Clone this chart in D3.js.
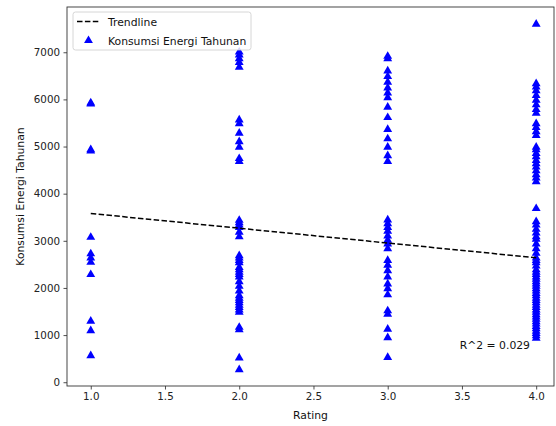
<!DOCTYPE html>
<html>
<head>
<meta charset="utf-8">
<script src="https://cdn.jsdelivr.net/npm/d3@7/dist/d3.min.js"></script>
<style>
  html, body { margin: 0; padding: 0; background: #fff; }
  svg { display: block; font-family: "DejaVu Sans", sans-serif; }
</style>
</head>
<body>
<svg id="chart" width="556" height="426"></svg>
<script>
// Annual energy consumption grouped by rating
const ratings = [1, 2, 3, 4];
const energyRating1 = [5940, 5920, 4950, 4920, 3090, 2740, 2650, 2560, 2300, 1310, 1110, 580];
const energyRating2 = [7020, 6960, 6880, 6800, 6700, 5580, 5500, 5300, 5120, 5000, 4760, 4700,
  3450, 3400, 3350, 3300, 3200, 3100, 2700, 2650, 2600, 2550, 2450, 2400, 2350, 2300, 2250,
  2150, 2050, 1950, 1850, 1800, 1750, 1700, 1650, 1600, 1550, 1500, 1180, 1130, 530, 280];
const energyRating3 = [6930, 6880, 6620, 6500, 6380, 6260, 6150, 6050, 5850, 5630, 5380, 5180,
  5000, 4820, 4700, 3460, 3380, 3300, 3220, 3120, 3030, 2950, 2850, 2600, 2500, 2380, 2250,
  2100, 2000, 1870, 1530, 1460, 1140, 960, 540];
const energyRating4 = [7610, 6350, 6280, 6200, 6100, 6000, 5900, 5800, 5720, 5500, 5420, 5330,
  5250, 5000, 4950, 4870, 4800, 4720, 4650, 4580, 4500, 4420, 4350, 4270, 3700, 3420, 3350,
  3260, 3180, 3100, 3050, 2950, 2850, 2750, 2650, 2600, 2550, 2480, 2400, 2350, 2300, 2250,
  2200, 2150, 2100, 2050, 2000, 1950, 1900, 1850, 1800, 1750, 1700, 1650, 1600, 1550, 1500,
  1450, 1400, 1350, 1300, 1250, 1200, 1150, 1100, 1050, 1000, 950];
const energyByRating = [energyRating1, energyRating2, energyRating3, energyRating4];

// Fitted trendline end values (at rating 1 and rating 4) and its R^2
const trendRatings = [1, 4];
const trendValues = [3580, 2640];
const rSquaredLabel = "R^2 = 0.029";

const xTicks = [1.0, 1.5, 2.0, 2.5, 3.0, 3.5, 4.0];
const yTicks = [0, 1000, 2000, 3000, 4000, 5000, 6000, 7000];

const points = [];
ratings.forEach((r, i) => energyByRating[i].forEach(v => points.push({ rating: r, energy: v })));

const svg = d3.select("#chart");
const plotLeft = 67, plotRight = 554, plotTop = 7, plotBottom = 386;
const labelSize = "10.8px";

const x = d3.scaleLinear().domain([0.84, 4.12]).range([plotLeft, plotRight]);
const y = d3.scaleLinear().domain([-80, 7960]).range([plotBottom, plotTop]);

// axes
const xAxis = d3.axisBottom(x).tickValues(xTicks).tickFormat(d3.format(".1f")).tickSize(3.5).tickPadding(3.5);
const yAxis = d3.axisLeft(y).tickValues(yTicks).tickFormat(d3.format("d")).tickSize(3.5).tickPadding(3.5);

const gx = svg.append("g").attr("transform", `translate(0,${plotBottom})`).call(xAxis);
const gy = svg.append("g").attr("transform", `translate(${plotLeft},0)`).call(yAxis);
[gx, gy].forEach(g => {
  g.select(".domain").remove();
  g.selectAll(".tick line").attr("stroke", "#222").attr("stroke-width", 0.8);
  g.selectAll(".tick text").attr("fill", "#222").style("font-size", "10.3px")
    .style("font-family", "DejaVu Sans, sans-serif");
});

// scatter of triangles
const tri = d3.symbol().type(d3.symbolTriangle).size(34);
svg.append("g").selectAll("path").data(points).join("path")
  .attr("d", tri)
  .attr("transform", d => `translate(${x(d.rating)},${y(d.energy) + 0.7})`)
  .attr("fill", "#0000ff");

// trendline
const line = d3.line().x(d => x(d[0])).y(d => y(d[1]));
svg.append("path")
  .datum(trendRatings.map((r, i) => [r, trendValues[i]]))
  .attr("d", line)
  .attr("fill", "none")
  .attr("stroke", "#000")
  .attr("stroke-width", 1.5)
  .attr("stroke-dasharray", "5.5,2.4");

// frame
svg.append("rect")
  .attr("x", plotLeft).attr("y", plotTop)
  .attr("width", plotRight - plotLeft).attr("height", plotBottom - plotTop)
  .attr("fill", "none").attr("stroke", "#333").attr("stroke-width", 0.9);

// R^2 annotation
svg.append("text")
  .attr("x", 530).attr("y", 349)
  .attr("text-anchor", "end")
  .style("font-size", labelSize).attr("fill", "#111")
  .text(rSquaredLabel);

// axis labels
svg.append("text")
  .attr("x", (plotLeft + plotRight) / 2).attr("y", 419)
  .attr("text-anchor", "middle").style("font-size", labelSize).attr("fill", "#111")
  .text("Rating");
svg.append("text")
  .attr("transform", `translate(24,${(plotTop + plotBottom) / 2}) rotate(-90)`)
  .attr("text-anchor", "middle").style("font-size", labelSize).attr("fill", "#111")
  .text("Konsumsi Energi Tahunan");

// legend
const lg = svg.append("g").attr("transform", "translate(73,12)");
lg.append("rect")
  .attr("x", 0).attr("y", 0).attr("width", 178).attr("height", 38).attr("rx", 2.5)
  .attr("fill", "rgba(255,255,255,0.8)").attr("stroke", "#ccc").attr("stroke-width", 0.8);
lg.append("line")
  .attr("x1", 4).attr("x2", 27).attr("y1", 9.5).attr("y2", 9.5)
  .attr("stroke", "#000").attr("stroke-width", 1.5).attr("stroke-dasharray", "5.5,2.4");
lg.append("path").attr("d", tri).attr("transform", "translate(15.5,28.5)").attr("fill", "#0000ff");
lg.append("text").attr("x", 35).attr("y", 13.5).style("font-size", labelSize).attr("fill", "#111").text("Trendline");
lg.append("text").attr("x", 35).attr("y", 32.5).style("font-size", labelSize).attr("fill", "#111").text("Konsumsi Energi Tahunan");
</script>
</body>
</html>
